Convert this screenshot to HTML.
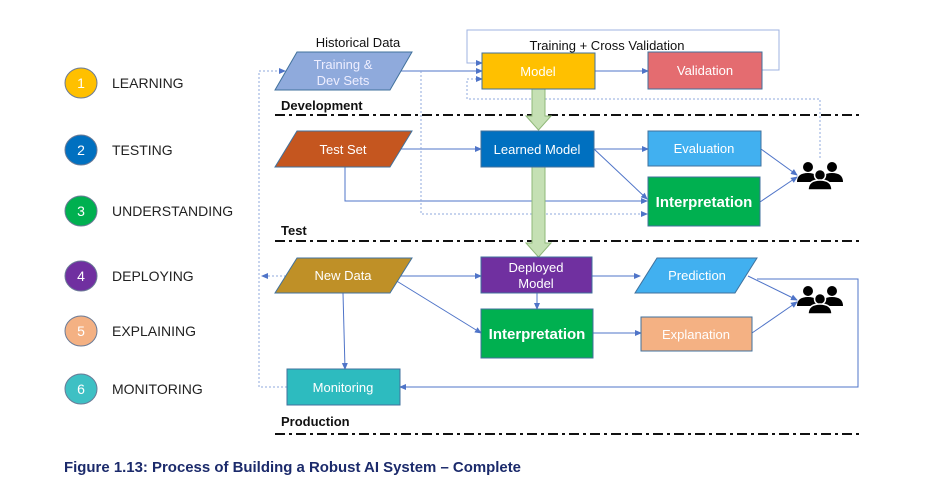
<!DOCTYPE html>
<html><head><meta charset="utf-8"><style>
html,body{margin:0;padding:0;background:#fff;}
svg{display:block;font-family:"Liberation Sans",Arial,sans-serif;}
</style></head><body>
<svg width="927" height="497" viewBox="0 0 927 497" xmlns="http://www.w3.org/2000/svg">
<defs>
<marker id="a" markerWidth="7" markerHeight="7" refX="6" refY="3.5" orient="auto" markerUnits="userSpaceOnUse"><path d="M0,0.5 L7,3.5 L0,6.5 z" fill="#4f74c8"/></marker>
<g id="ppl" fill="#000">
<circle cx="-12" cy="-9" r="5"/><circle cx="12" cy="-9" r="5"/>
<path d="M-23,6 Q-23,-3 -12,-3 Q-1,-3 -1,6 z"/><path d="M1,6 Q1,-3 12,-3 Q23,-3 23,6 z"/>
<circle cx="0" cy="-1" r="5.5" stroke="#fff" stroke-width="1.5"/>
<path d="M-12,14 Q-12,4 0,4 Q12,4 12,14 z" stroke="#fff" stroke-width="1.5"/>
</g>
</defs>
<g font-size="14" fill="#222">
<ellipse cx="81" cy="83" rx="16" ry="15" fill="#FFC000" stroke="#6a7a96"/>
<ellipse cx="81" cy="150" rx="16" ry="15" fill="#0070C0" stroke="#6a7a96"/>
<ellipse cx="81" cy="211" rx="16" ry="15" fill="#00B050" stroke="#6a7a96"/>
<ellipse cx="81" cy="276" rx="16" ry="15" fill="#7030A0" stroke="#6a7a96"/>
<ellipse cx="81" cy="331" rx="16" ry="15" fill="#F4B183" stroke="#6a7a96"/>
<ellipse cx="81" cy="389" rx="16" ry="15" fill="#3EC0C4" stroke="#6a7a96"/>
<g fill="#fff" font-size="14" text-anchor="middle">
<text x="81" y="88">1</text><text x="81" y="155">2</text><text x="81" y="216">3</text><text x="81" y="281">4</text><text x="81" y="336">5</text><text x="81" y="394">6</text></g>
<text x="112" y="88">LEARNING</text><text x="112" y="155">TESTING</text><text x="112" y="216">UNDERSTANDING</text><text x="112" y="281">DEPLOYING</text><text x="112" y="336">EXPLAINING</text><text x="112" y="394">MONITORING</text>
</g>
<g stroke="#111" stroke-width="2" stroke-dasharray="10,4,3,4">
<line x1="275" y1="115" x2="862" y2="115"/><line x1="275" y1="241" x2="862" y2="241"/><line x1="275" y1="434" x2="862" y2="434"/>
</g>
<g font-size="13" font-weight="bold" fill="#111">
<text x="281" y="110">Development</text><text x="281" y="235">Test</text><text x="281" y="426">Production</text>
</g>
<g fill="none" stroke="#4f74c8" stroke-width="1">
<polyline points="762,70 779,70 779,30 467,30 467,63 482,63" stroke="#9fb3e0" marker-end="url(#a)"/>
<line x1="370" y1="71" x2="482" y2="71" marker-end="url(#a)"/>
<line x1="595" y1="71" x2="648" y2="71" marker-end="url(#a)"/>
<line x1="360" y1="149" x2="481" y2="149" marker-end="url(#a)"/>
<line x1="594" y1="149" x2="648" y2="149" marker-end="url(#a)"/>
<line x1="594" y1="149" x2="647" y2="199" marker-end="url(#a)"/>
<polyline points="345,167 345,201 647,201" marker-end="url(#a)"/>
<line x1="761" y1="149" x2="797" y2="175" marker-end="url(#a)"/>
<line x1="760" y1="202" x2="797" y2="177" marker-end="url(#a)"/>
<line x1="397" y1="276" x2="481" y2="276" marker-end="url(#a)"/>
<line x1="395" y1="280" x2="481" y2="333" marker-end="url(#a)"/>
<line x1="343" y1="293" x2="345" y2="369" marker-end="url(#a)"/>
<line x1="537" y1="293" x2="537" y2="309" marker-end="url(#a)"/>
<line x1="592" y1="276" x2="640" y2="276" marker-end="url(#a)"/>
<line x1="593" y1="333" x2="641" y2="333" marker-end="url(#a)"/>
<line x1="748" y1="276" x2="797" y2="300" marker-end="url(#a)"/>
<line x1="752" y1="333" x2="797" y2="302" marker-end="url(#a)"/>
<polyline points="757,279 858,279 858,387 400,387" marker-end="url(#a)"/>
</g>
<g fill="none" stroke="#8fa8dc" stroke-width="1" stroke-dasharray="2,2">
<polyline points="287,387 259,387 259,71 285,71" marker-end="url(#a)"/>
<line x1="290" y1="276" x2="262" y2="276" marker-end="url(#a)"/>
<polyline points="421,71 421,214 647,214" marker-end="url(#a)"/>
<polyline points="820,158 820,99 467,99 467,79 482,79" marker-end="url(#a)"/>
</g>
<g fill="#C5E0B4" stroke="#8fb878" stroke-width="1">
<path d="M532,89 L545,89 L545,116 L551,116 L538.5,130 L526,116 L532,116 z"/>
<path d="M532,167 L545,167 L545,243 L551,243 L538.5,257 L526,243 L532,243 z"/>
</g>
<g stroke="#41719c" stroke-width="1">
<polygon points="297,52 412,52 390,90 275,90" fill="#8FAADC"/>
<rect x="482" y="53" width="113" height="36" fill="#FFC000"/>
<rect x="648" y="52" width="114" height="37" fill="#E46C70"/>
<polygon points="297,131 412,131 390,167 275,167" fill="#C5561F"/>
<rect x="481" y="131" width="113" height="36" fill="#0070C0"/>
<rect x="648" y="131" width="113" height="35" fill="#41B0F0"/>
<rect x="648" y="177" width="112" height="49" fill="#00B050"/>
<polygon points="297,258 412,258 390,293 275,293" fill="#BF9027"/>
<rect x="481" y="257" width="111" height="36" fill="#7030A0"/>
<polygon points="657,258 757,258 735,293 635,293" fill="#41B0F0"/>
<rect x="481" y="309" width="112" height="49" fill="#00B050"/>
<rect x="641" y="317" width="111" height="34" fill="#F4B183"/>
<rect x="287" y="369" width="113" height="36" fill="#2DBBBF"/>
</g>
<g font-size="13" fill="#fff" text-anchor="middle">
<text x="343" y="69" fill="#eef">Training &amp;</text><text x="343" y="85" fill="#eef">Dev Sets</text>
<text x="538" y="76">Model</text>
<text x="705" y="75">Validation</text>
<text x="343" y="154">Test Set</text>
<text x="537" y="154">Learned Model</text>
<text x="704" y="153">Evaluation</text>
<text x="704" y="207" font-size="15" font-weight="bold">Interpretation</text>
<text x="343" y="280">New Data</text>
<text x="536" y="272">Deployed</text><text x="536" y="288">Model</text>
<text x="697" y="280">Prediction</text>
<text x="537" y="339" font-size="15" font-weight="bold">Interpretation</text>
<text x="696" y="339">Explanation</text>
<text x="343" y="392">Monitoring</text>
</g>
<g font-size="13" fill="#111" text-anchor="middle">
<text x="358" y="47">Historical Data</text>
<text x="607" y="50">Training + Cross Validation</text>
</g>
<use href="#ppl" x="820" y="176"/>
<use href="#ppl" x="820" y="300"/>
<text x="64" y="472" font-size="15" font-weight="bold" fill="#1b2a6b" textLength="457" lengthAdjust="spacingAndGlyphs">Figure 1.13: Process of Building a Robust AI System – Complete</text>
</svg>
</body></html>
